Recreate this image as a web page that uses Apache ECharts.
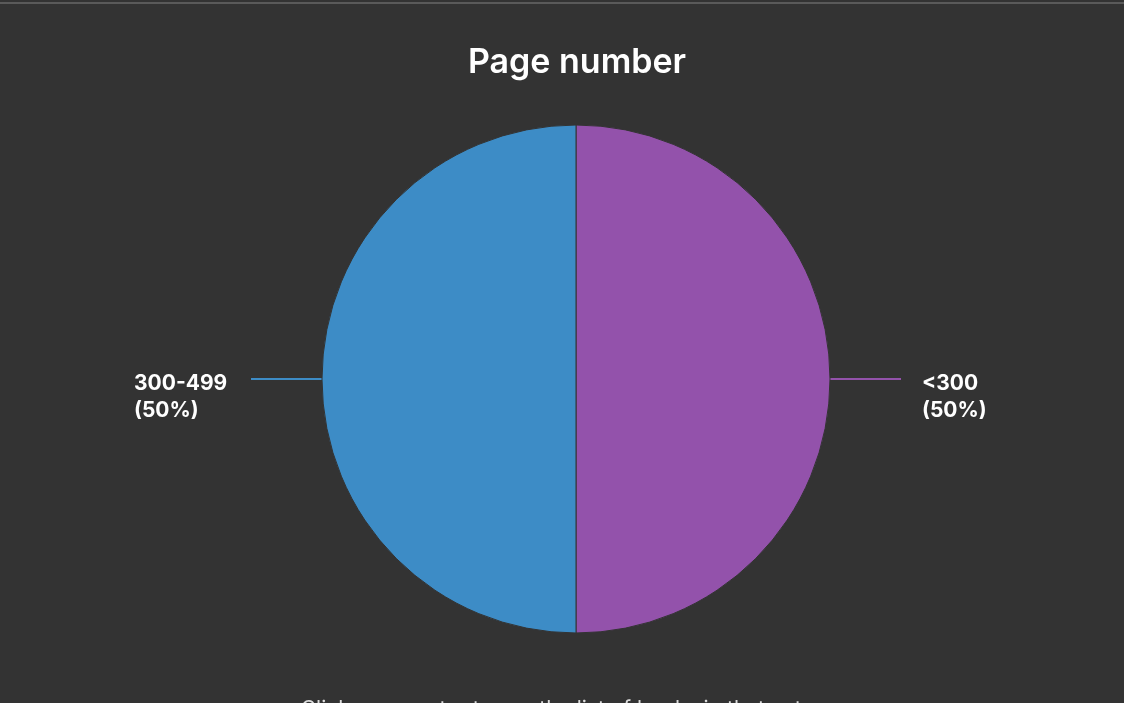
<!DOCTYPE html>
<html>
<head>
<meta charset="utf-8">
<script src="https://cdn.jsdelivr.net/npm/echarts@6/dist/echarts.min.js"></script>
<style>
html,body{margin:0;padding:0;background:#333333;}
#c{width:1124px;height:703px;}
</style>
</head>
<body>
<div id="c"></div>
<script>
const categories = ['<300', '300-499'];
const values = [1, 1];
const colors = ['#9352ab', '#3d8cc6'];
const titleText = 'Page number';
const footText = 'Click on a sector to see the list of books in that category';

const chart = echarts.init(document.getElementById('c'), null, {renderer: 'canvas'});
chart.setOption({
  backgroundColor: '#333333',
  animation: false,
  title: {
    text: titleText,
    left: 572,
    textAlign: 'center',
    top: 41,
    textStyle: {color: '#ffffff', fontFamily: 'Inter', fontWeight: 600, fontSize: 34}
  },
  graphic: [
    {type: 'rect', left: 0, top: 2, shape: {width: 1124, height: 2}, style: {fill: '#5a5a5a'}},
    {type: 'text', x: 580, y: 699, style: {text: footText, fill: '#dddddd', font: '21px Inter', textAlign: 'center', textVerticalAlign: 'top'}}
  ],
  series: [{
    type: 'pie',
    center: [576, 379],
    radius: 254,
    startAngle: 90,
    clockwise: true,
    data: categories.map((c, i) => ({name: c, value: values[i], itemStyle: {color: colors[i]}})),
    itemStyle: {borderColor: '#333333', borderWidth: 1},
    label: {
      color: '#ffffff',
      fontFamily: 'Inter',
      fontWeight: 700,
      fontSize: 21,
      lineHeight: 27,
      padding: [36, 0, 0, 0],
      distanceToLabelLine: 21,
      formatter: '{a|{b}}\n{a|({d}%)}',
      rich: {a: {width: 96, align: 'left', color: '#ffffff', fontFamily: 'Inter', fontWeight: 700, fontSize: 21, lineHeight: 27}}
    },
    labelLine: {show: true, length: 1, length2: 70, lineStyle: {width: 2}},
    emphasis: {disabled: true}
  }]
});
</script>
</body>
</html>
